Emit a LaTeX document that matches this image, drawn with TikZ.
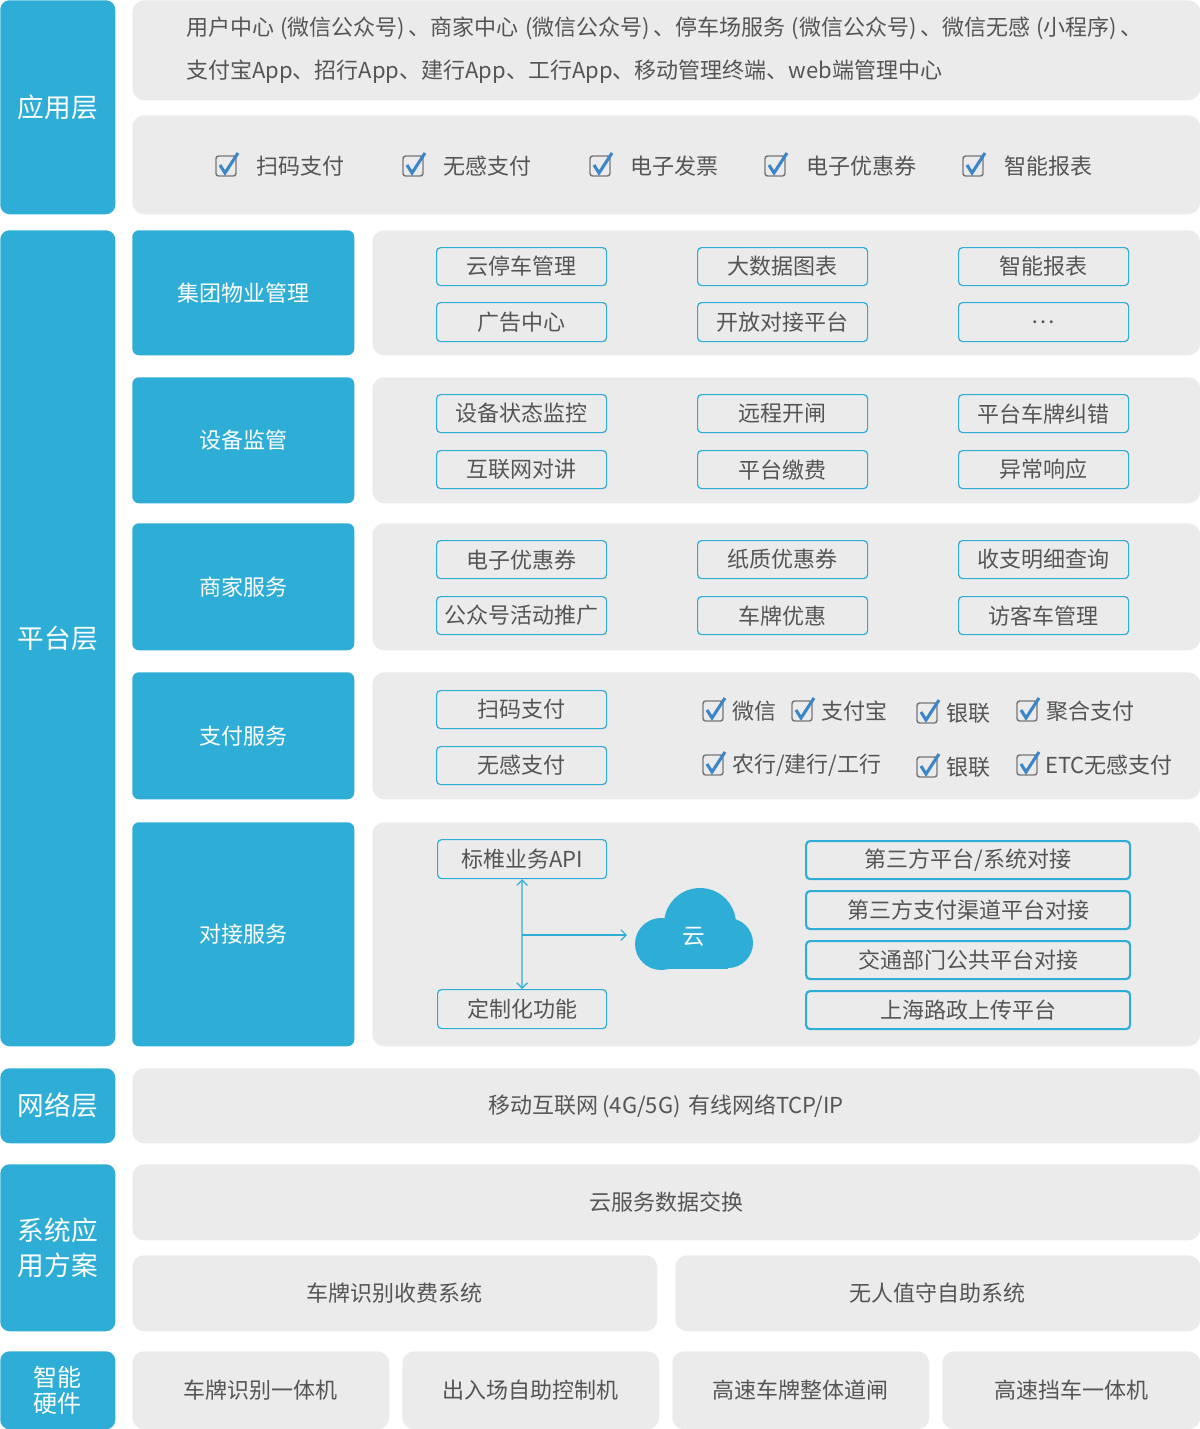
\documentclass[tikz,border=0pt]{standalone}
\usepackage{fontspec}
\setmainfont{Noto Sans CJK SC}
\usetikzlibrary{arrows.meta,calc}
\definecolor{bl}{HTML}{2EAED6}
\definecolor{pg}{HTML}{EBEBEB}
\definecolor{tx}{HTML}{555555}
\definecolor{ck}{HTML}{3A86C8}
\tikzset{
 x=0.75pt,y=-0.75pt,
 lay/.style={fill=bl,rounded corners=7pt,text=white,font=\fontsize{20}{26}\selectfont,align=center},
 blk/.style={fill=bl,rounded corners=5pt,text=white,font=\fontsize{16.5}{20}\selectfont},
 pan/.style={fill=pg,rounded corners=9pt,text=tx,font=\fontsize{16.5}{20}\selectfont},
 sb/.style={draw=bl,line width=0.9pt,rounded corners=3pt,text=tx,font=\fontsize{16.5}{18}\selectfont},
 sbt/.style={sb,line width=1.6pt},
 lbl/.style={text=tx,font=\fontsize{16.5}{20}\selectfont,anchor=west,inner sep=0},
 lbs/.style={text=tx,font=\fontsize{16.5}{20}\selectfont,anchor=west,inner sep=0},
 con/.style={draw=bl,line width=0.9pt,-{Straight Barb[length=4pt]}},
}
\newcommand\bx[7]{\node[#6,anchor=north west,minimum width=#4*0.75pt,minimum height=#5*0.75pt,inner sep=0] (#1) at (#2,#3) {#7};}
\newcommand\chk[3]{\coordinate (#1) at (#2,#3);
 \draw[tx!80,rounded corners=2pt,line width=1.1pt] ($(#1)+(-10,-10)$) rectangle ($(#1)+(10,10)$);
 \draw[ck,line width=2.3pt] ($(#1)+(-6,-1)$) -- ($(#1)+(-1,7)$) -- ($(#1)+(12,-13)$);}
\begin{document}
\begin{tikzpicture}
\useasboundingbox (0,0) rectangle (1200,1429);
\bx{L1}{0}{0}{115}{214}{lay}{应用层}
\bx{L2}{0}{230}{115}{816}{lay}{平台层}
\bx{L3}{0}{1068}{115}{75}{lay}{网络层}
\bx{L4}{0}{1164}{115}{167}{lay}{系统应\\用方案}
\bx{L5}{0}{1351}{115}{78}{lay,font=\fontsize{18}{20}\selectfont}{智能\\硬件}
\bx{A1}{132}{0}{1068}{100}{pan}{}
\node[lbl,align=left,font=\fontsize{16.5}{32}\selectfont] (A1t) at (186,50) {用户中心\;(微信公众号)\,、商家中心\;(微信公众号)\,、停车场服务\;(微信公众号)\,、微信无感\;(小程序)\,、\\支付宝App、招行App、建行App、工行App、移动管理终端、web端管理中心};
\bx{A2}{132}{115}{1068}{99}{pan}{}
\chk{c1}{226}{166}\node[lbl] (t1) at (256,166) {扫码支付};
\chk{c2}{413}{166}\node[lbl] (t2) at (443,166) {无感支付};
\chk{c3}{600}{166}\node[lbl] (t3) at (630,166) {电子发票};
\chk{c4}{775}{166}\node[lbl] (t4) at (806,166) {电子优惠券};
\chk{c5}{973}{166}\node[lbl] (t5) at (1004,166) {智能报表};
\bx{B1}{132}{230}{222}{125}{blk}{集团物业管理}
\bx{P1}{372}{230}{828}{125}{pan}{}
\bx{B2}{132}{377}{222}{126}{blk}{设备监管}
\bx{P2}{372}{377}{828}{126}{pan}{}
\bx{B3}{132}{523}{222}{127}{blk}{商家服务}
\bx{P3}{372}{523}{828}{127}{pan}{}
\bx{B4}{132}{672}{222}{127}{blk}{支付服务}
\bx{P4}{372}{672}{828}{127}{pan}{}
\bx{B5}{132}{822}{222}{224}{blk}{对接服务}
\bx{P5}{372}{822}{828}{224}{pan}{}
\bx{s11}{436}{247}{170}{38}{sb}{云停车管理}
\bx{s12}{697}{247}{170}{38}{sb}{大数据图表}
\bx{s13}{958}{247}{170}{38}{sb}{智能报表}
\bx{s14}{436}{302}{170}{39}{sb}{广告中心}
\bx{s15}{697}{302}{170}{39}{sb}{开放对接平台}
\bx{s16}{958}{302}{170}{39}{sb}{…}
\bx{s21}{436}{394}{170}{38}{sb}{设备状态监控}
\bx{s22}{697}{394}{170}{38}{sb}{远程开闸}
\bx{s23}{958}{394}{170}{38}{sb}{平台车牌纠错}
\bx{s24}{436}{450}{170}{38}{sb}{互联网对讲}
\bx{s25}{697}{450}{170}{38}{sb}{平台缴费}
\bx{s26}{958}{450}{170}{38}{sb}{异常响应}
\bx{s31}{436}{540}{170}{38}{sb}{电子优惠券}
\bx{s32}{697}{540}{170}{38}{sb}{纸质优惠券}
\bx{s33}{958}{540}{170}{38}{sb}{收支明细查询}
\bx{s34}{436}{596}{170}{38}{sb}{公众号活动推广}
\bx{s35}{697}{596}{170}{38}{sb}{车牌优惠}
\bx{s36}{958}{596}{170}{38}{sb}{访客车管理}
\bx{s41}{436}{690}{170}{38}{sb}{扫码支付}
\bx{s42}{436}{746}{170}{38}{sb}{无感支付}
\chk{d1}{713}{711}\node[lbs] (u1) at (732,711) {微信};
\chk{d2}{802}{711}\node[lbs] (u2) at (821,711) {支付宝};
\chk{d3}{927}{713}\node[lbs] (u3) at (946,713) {银联};
\chk{d4}{1027}{711}\node[lbs] (u4) at (1046,711) {聚合支付};
\chk{d5}{713}{765}\node[lbs] (u5) at (732,765) {农行/建行/工行};
\chk{d6}{927}{767}\node[lbs] (u6) at (946,767) {银联};
\chk{d7}{1027}{765}\node[lbs] (u7) at (1045,765) {ETC无感支付};
\bx{s51}{437}{839}{169}{39}{sb}{标椎业务API}
\bx{s52}{437}{989}{169}{39}{sb}{定制化功能}
\bx{r1}{805}{840}{324}{38}{sbt}{第三方平台/系统对接}
\bx{r2}{805}{890}{324}{38}{sbt}{第三方支付渠道平台对接}
\bx{r3}{805}{940}{324}{38}{sbt}{交通部门公共平台对接}
\bx{r4}{805}{990}{324}{38}{sbt}{上海路政上传平台}
\fill[bl] (700,924) circle[radius=36] (661,944) circle[radius=26] (728,943) circle[radius=25];
\fill[bl] (661,944) rectangle (728,969);
\node[text=white,font=\fontsize{17}{20}\selectfont] (cl) at (694,937) {云};
\coordinate (j) at (522,935);
\draw[con] (j) -- (s51.south);
\draw[con] (j) -- (s52.north);
\draw[con] (j) -- (627,935) coordinate (ce);
\bx{N}{132}{1068}{1068}{75}{pan}{移动互联网\,(4G/5G)\,\,有线网络TCP/IP}
\bx{S1}{132}{1164}{1068}{76}{pan}{云服务数据交换}
\bx{S2}{132}{1255}{525}{76}{pan}{车牌识别收费系统}
\bx{S3}{675}{1255}{525}{76}{pan}{无人值守自助系统}
\bx{H1}{132}{1351}{257}{78}{pan}{车牌识别一体机}
\bx{H2}{402}{1351}{257}{78}{pan}{出入场自助控制机}
\bx{H3}{672}{1351}{257}{78}{pan}{高速车牌整体道闸}
\bx{H4}{942}{1351}{258}{78}{pan}{高速挡车一体机}
\end{tikzpicture}
\end{document}
